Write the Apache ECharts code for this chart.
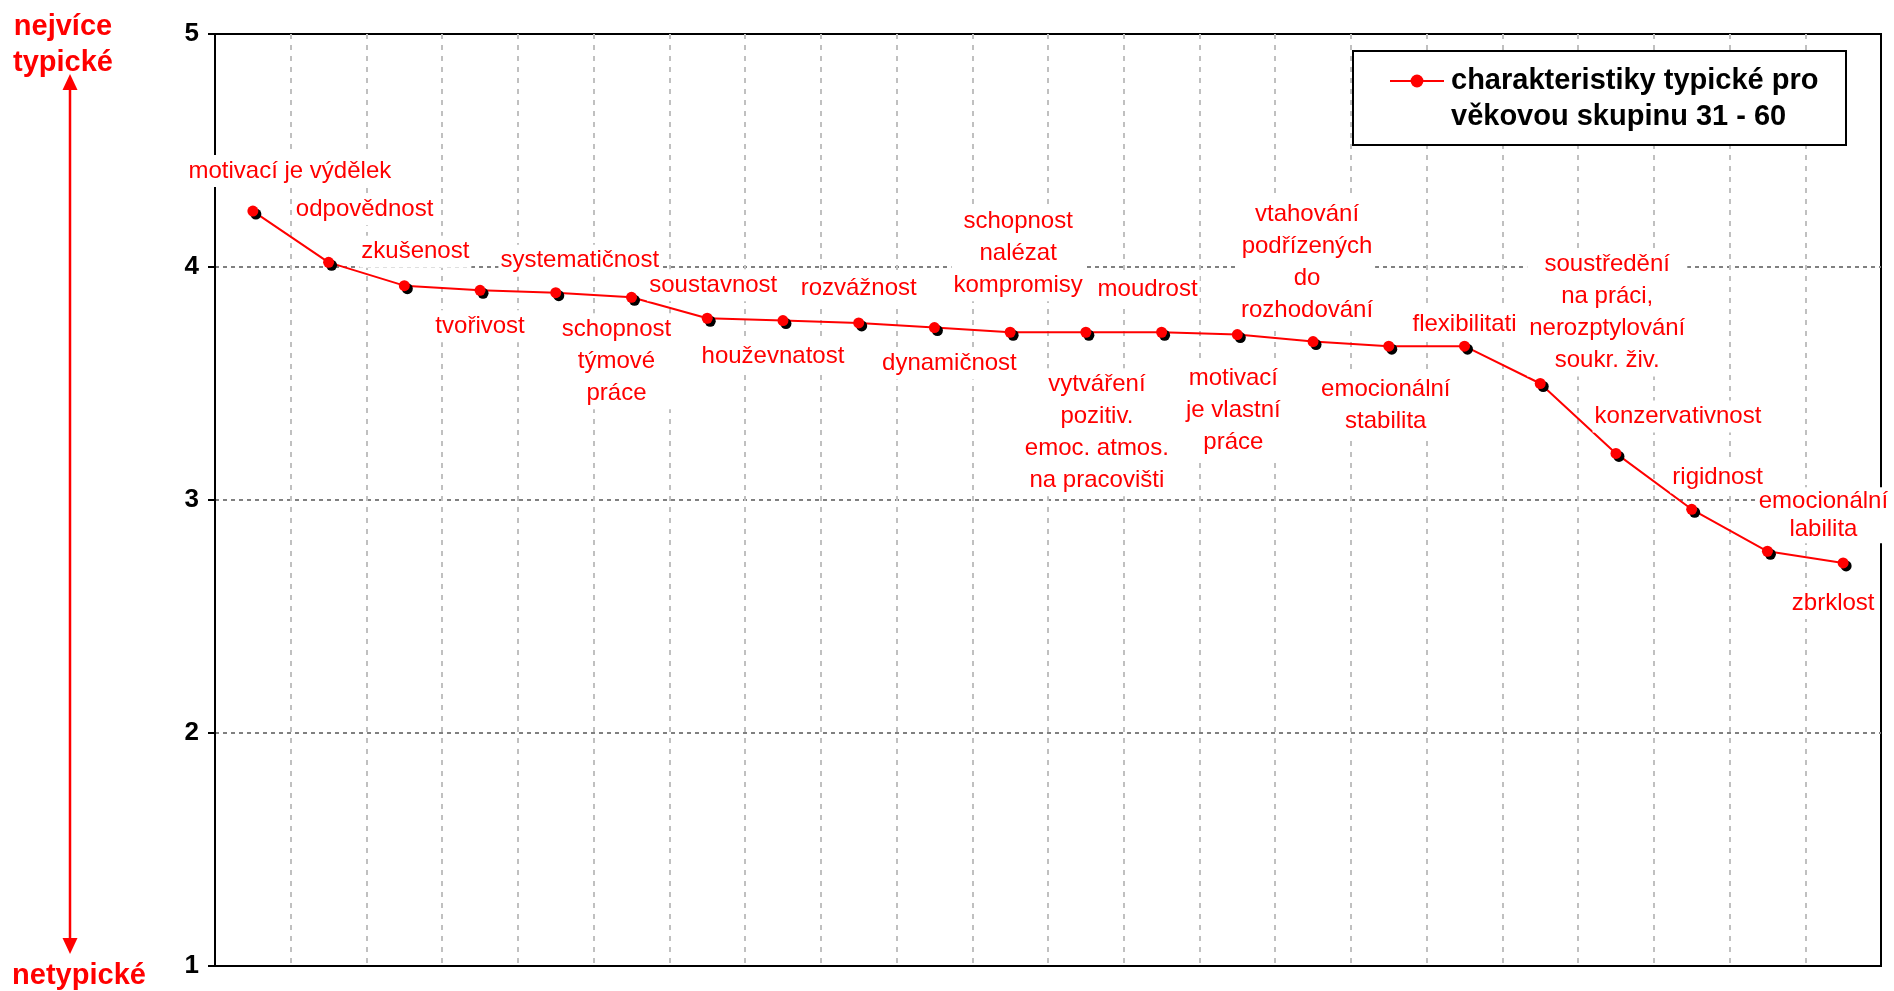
<!DOCTYPE html>
<html>
<head>
<meta charset="utf-8">
<title>charakteristiky typické pro věkovou skupinu 31 - 60</title>
<script src="https://cdn.jsdelivr.net/npm/echarts@6/dist/echarts.min.js"></script>
<style>
html, body { margin: 0; padding: 0; background: #fff; }
#chart { width: 1894px; height: 991px; }
</style>
</head>
<body>
<div id="chart"></div>
<script>
// charakteristiky v poradi grafu
var names = [
  'motivací je výdělek', 'odpovědnost', 'zkušenost', 'tvořivost', 'systematičnost',
  'schopnost\ntýmové\npráce', 'soustavnost', 'houževnatost', 'rozvážnost', 'dynamičnost',
  'schopnost\nnalézat\nkompromisy', 'vytváření\npozitiv.\nemoc. atmos.\nna pracovišti', 'moudrost',
  'motivací\nje vlastní\npráce', 'vtahování\npodřízených\ndo\nrozhodování', 'emocionální\nstabilita',
  'flexibilitati', 'soustředění\nna práci,\nnerozptylování\nsoukr. živ.', 'konzervativnost',
  'rigidnost', 'emocionální\nlabilita', 'zbrklost'
];
var values = [4.24, 4.02, 3.92, 3.90, 3.89, 3.87, 3.78, 3.77, 3.76, 3.74, 3.72,
  3.72, 3.72, 3.71, 3.68, 3.66, 3.66, 3.50, 3.20, 2.96, 2.78, 2.73];
var yTicks = [1, 2, 3, 4, 5];
var seriesName = 'charakteristiky typické pro\nvěkovou skupinu 31 - 60';

// posun popisku od bodu (px), pripadne radkovani
var labelOffsets = [
  [37, -40], [36, -53], [11, -34], [0, 36], [24, -32], [-15, 64], [6, -33], [-10, 36],
  [0, -35], [15, 36], [8, -79], [11, 100], [-14, -43], [-4, 76], [-6, -79], [-3, 59],
  [0, -22], [67, -71], [62, -37], [26, -32], [56, -36, 28], [-10, 40]
];

var FONT = '"Liberation Sans", Arial, sans-serif';
var RED = '#ff0000';
var SYM = 11;

var myChart = echarts.init(document.getElementById('chart'));
var option = {
  backgroundColor: '#fff',
  animation: false,
  grid: {
    left: 215, right: 13, top: 34, bottom: 25,
    show: true, borderColor: '#000', borderWidth: 2, backgroundColor: 'transparent'
  },
  legend: {
    left: 1389, top: 27,
    padding: 0,
    itemWidth: 54, itemHeight: 16,
    data: [seriesName],
    formatter: function (name) { return ' \n' + name; },
    itemStyle: { shadowColor: 'rgba(0,0,0,0)', shadowOffsetX: 0, shadowOffsetY: 0 },
    textStyle: {
      color: '#000', fontFamily: FONT, fontWeight: 'bold', fontSize: 29,
      lineHeight: 36, padding: [0, 0, 0, 2]
    }
  },
  xAxis: {
    type: 'category',
    data: names,
    boundaryGap: true,
    axisLine: { lineStyle: { color: '#000', width: 2 } },
    axisTick: { show: false },
    axisLabel: { show: false },
    splitLine: { show: true, interval: 0, showMinLine: false, showMaxLine: false,
      lineStyle: { color: '#c0c0c0', width: 2, type: [5, 6] } }
  },
  yAxis: {
    type: 'value',
    min: yTicks[0], max: yTicks[yTicks.length - 1], interval: 1,
    axisLine: { show: true, lineStyle: { color: '#000', width: 2 } },
    axisTick: { show: true, length: 7, lineStyle: { color: '#000', width: 2 } },
    axisLabel: { color: '#000', fontFamily: FONT, fontWeight: 'bold', fontSize: 26, margin: 16 },
    splitLine: { show: true, showMinLine: false, showMaxLine: false,
      lineStyle: { color: '#808080', width: 2, type: [4, 4] } }
  },
  graphic: [
    { type: 'rect', z: 3, shape: { x: 1353, y: 51, width: 493, height: 94 },
      style: { fill: '#fff', stroke: '#000', lineWidth: 2 } },
    { type: 'text', style: { text: 'nejvíce', x: 63, y: 27, fill: RED,
      font: 'bold 29px ' + FONT, align: 'center', verticalAlign: 'middle' } },
    { type: 'text', style: { text: 'typické', x: 63, y: 63, fill: RED,
      font: 'bold 29px ' + FONT, align: 'center', verticalAlign: 'middle' } },
    { type: 'text', style: { text: 'netypické', x: 79, y: 976, fill: RED,
      font: 'bold 29px ' + FONT, align: 'center', verticalAlign: 'middle' } },
    { type: 'line', shape: { x1: 70, y1: 86, x2: 70, y2: 942 },
      style: { stroke: RED, lineWidth: 2.5 } },
    { type: 'polygon', shape: { points: [[70, 74], [62.5, 90], [77.5, 90]] }, style: { fill: RED } },
    { type: 'polygon', shape: { points: [[70, 954], [62.5, 938], [77.5, 938]] }, style: { fill: RED } }
  ],
  series: [{
    name: seriesName,
    type: 'line',
    symbol: 'circle',
    symbolSize: SYM,
    lineStyle: { color: RED, width: 2 },
    itemStyle: { color: RED, shadowColor: '#000', shadowBlur: 0, shadowOffsetX: 3, shadowOffsetY: 3 },
    label: {
      show: true,
      formatter: function (p) { return p.name; },
      color: RED,
      fontFamily: FONT,
      fontSize: 24,
      lineHeight: 32,
      align: 'center',
      verticalAlign: 'middle',
      backgroundColor: '#fff',
      padding: [0, 2]
    },
    data: values.map(function (v, i) {
      var o = labelOffsets[i];
      var lbl = { position: [SYM / 2 + o[0], SYM / 2 + o[1]] };
      if (o[2]) lbl.lineHeight = o[2];
      return { value: v, label: lbl };
    })
  }]
};
myChart.setOption(option);
</script>
</body>
</html>
